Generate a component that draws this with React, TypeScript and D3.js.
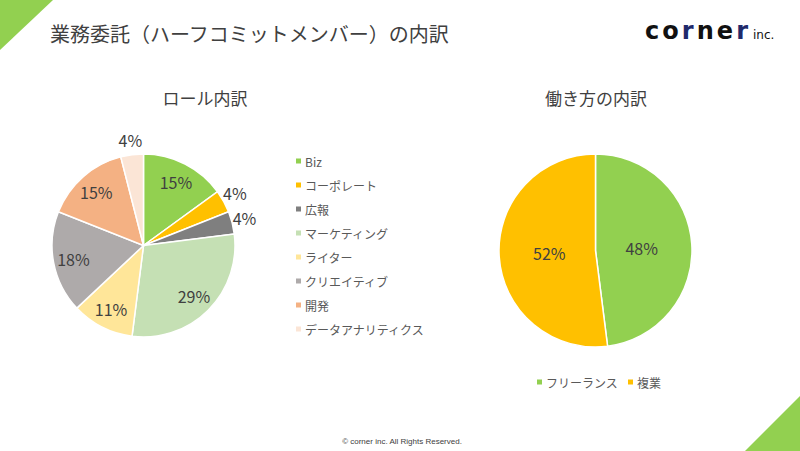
import React from "react";
import * as d3 from "d3";

const roleCategories = ["Biz", "コーポレート", "広報", "マーケティング", "ライター", "クリエイティブ", "開発", "データアナリティクス"];
const roleValues = [15, 4, 4, 29, 11, 18, 15, 4];
const roleColors = ["#92D050", "#FFC000", "#7F7F7F", "#C5E0B4", "#FFE699", "#AEAAAA", "#F4B183", "#FBE5D6"];

const workCategories = ["フリーランス", "複業"];
const workValues = [48, 52];
const workColors = ["#92D050", "#FFC000"];

const FONT = "'Noto Sans CJK JP', 'Noto Sans', sans-serif";

export default function App() {
  const pie = d3.pie<number>().sort(null).startAngle(0).endAngle(Math.PI * 2);

  const R1 = 91.5;
  const c1 = { x: 143.5, y: 245.5 };
  const arc1 = d3.arc<d3.PieArcDatum<number>>().innerRadius(0).outerRadius(R1);
  const lblIn1 = d3.arc<d3.PieArcDatum<number>>().innerRadius(R1 * 0.78).outerRadius(R1 * 0.78);
  const lblOut1 = d3.arc<d3.PieArcDatum<number>>().innerRadius(R1 * 1.14).outerRadius(R1 * 1.14);
  const arcs1 = pie(roleValues);

  const R2 = 96.5;
  const c2 = { x: 595.5, y: 250.5 };
  const arc2 = d3.arc<d3.PieArcDatum<number>>().innerRadius(0).outerRadius(R2);
  const lbl2 = d3.arc<d3.PieArcDatum<number>>().innerRadius(R2 * 0.48).outerRadius(R2 * 0.48);
  const arcs2 = pie(workValues);

  const legendY = d3.scaleLinear().domain([0, 1]).range([161, 185]);

  return (
    <svg width={800} height={451} style={{ position: "absolute", left: 0, top: 0, background: "#fff" }} fontFamily={FONT}>
      <rect x={0} y={0} width={800} height={451} fill="#fff" />
      <polygon points="0,0 53,0 0,50" fill="#92D050" />
      <polygon points="745,451 800,451 800,396" fill="#92D050" />

      <text x={50} y={33} fontSize={20} fill="#404040" dominantBaseline="central">業務委託（ハーフコミットメンバー）の内訳</text>

      <text x={645} y={39} fontSize={24} fontWeight="bold" textLength={103} lengthAdjust="spacing" fill="#111" fontFamily="'DejaVu Sans', sans-serif">
        <tspan>co</tspan><tspan fill="#1F2A6B">r</tspan><tspan>ne</tspan><tspan fill="#1F2A6B">r</tspan>
      </text>
      <text x={753} y={39} fontSize={12} fill="#111" fontFamily="'DejaVu Sans', sans-serif">inc.</text>

      <text x={205} y={97} fontSize={17} fill="#404040" textAnchor="middle" dominantBaseline="central">ロール内訳</text>
      <text x={596} y={97} fontSize={17} fill="#404040" textAnchor="middle" dominantBaseline="central">働き方の内訳</text>

      <g transform={`translate(${c1.x},${c1.y})`}>
        {arcs1.map((a, i) => (
          <path key={i} d={arc1(a) || ""} fill={roleColors[i]} stroke="#fff" strokeWidth={1.5} />
        ))}
        {arcs1.map((a, i) => {
          const [x, y] = (a.value < 5 ? lblOut1 : lblIn1).centroid(a);
          return (
            <text key={i} x={x} y={y - (a.value < 5 ? 2 : 0)} fontSize={16} fill="#404040" textAnchor="middle" dominantBaseline="central">{a.value}%</text>
          );
        })}
      </g>

      {roleCategories.map((c, i) => (
        <g key={c} transform={`translate(296,${legendY(i)})`}>
          <rect x={0} y={-2.5} width={5} height={5} fill={roleColors[i]} />
          <text x={9} y={0} fontSize={12} fill="#595959" dominantBaseline="central">{c}</text>
        </g>
      ))}

      <g transform={`translate(${c2.x},${c2.y})`}>
        {arcs2.map((a, i) => (
          <path key={i} d={arc2(a) || ""} fill={workColors[i]} stroke="#fff" strokeWidth={1.5} />
        ))}
        {arcs2.map((a, i) => {
          const [x, y] = lbl2.centroid(a);
          return (
            <text key={i} x={x} y={y} fontSize={16} fill="#404040" textAnchor="middle" dominantBaseline="central">{a.value}%</text>
          );
        })}
      </g>

      {workCategories.map((c, i) => (
        <g key={c} transform={`translate(${i === 0 ? 537 : 628},382)`}>
          <rect x={0} y={-2.5} width={5} height={5} fill={workColors[i]} />
          <text x={9} y={0} fontSize={12} fill="#595959" dominantBaseline="central">{c}</text>
        </g>
      ))}

      <text x={402} y={441} fontSize={8} fill="#404040" textAnchor="middle" dominantBaseline="central" fontFamily="'Liberation Sans', Arial, sans-serif">© corner inc. All Rights Reserved.</text>
    </svg>
  );
}
